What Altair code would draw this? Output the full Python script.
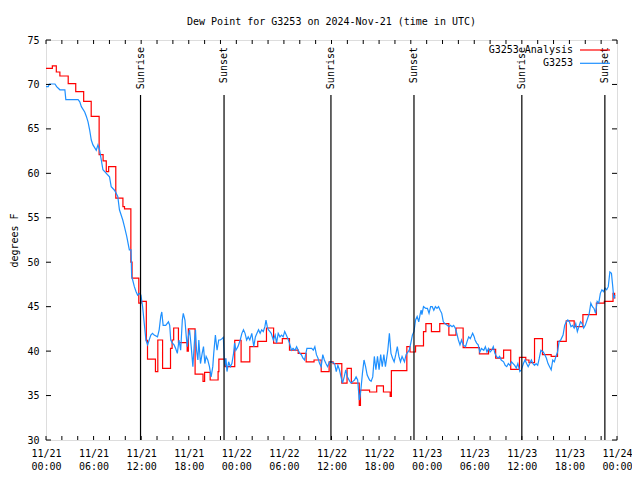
import altair as alt
import pandas as pd

MONO = "DejaVu Sans Mono"
BASE = pd.Timestamp("2024-11-21T00:00:00")

# ---- data (hours since 2024-11-21 00:00 UTC, dew point in deg F) ----
analysis_hours = [0, 0.8, 1.3, 1.75, 2.8, 3.75, 4.75, 5.7, 6.7, 7.2, 7.6, 7.9, 8.8, 9.7, 9.9,
                  10.7, 10.85, 11.7, 12.0, 12.65, 12.8, 13.8, 14.1, 14.7, 15.7, 15.9, 16.1,
                  16.7, 17.8, 17.95, 18.8, 19.8, 20.0, 20.7, 21.7, 21.8, 22.6, 23.8, 24.6,
                  25.7, 26.7, 27.8, 28.7, 29.8, 30.7, 31.8, 32.8, 33.8, 34.7, 35.7, 36.2,
                  37.3, 37.96, 38.5, 39.5, 39.65, 40.8, 41.7, 42.55, 43.4, 43.55, 45.5,
                  45.9, 46.6, 47.6, 47.9, 48.6, 49.65, 50.8, 51.7, 52.6, 54.65, 55.8, 56.7,
                  57.7, 58.6, 59.7, 60.5, 60.9, 61.6, 62.6, 63.7, 64.5, 65.6, 66.6, 67.7,
                  69.4, 70.4, 71.5, 71.7, 71.8]
analysis_dewpt = [71.8, 72.1, 71.4, 70.95, 70.1, 69.2, 68.1, 66.4, 62.1, 61.4, 60.2, 60.75, 57.2,
                  56.25, 56.0, 50.0, 48.2, 45.4, 45.6, 41.2, 39.1, 37.7, 41.25, 38.05, 40.3,
                  41.25, 42.6, 40.95, 40.0, 42.5, 37.4, 36.6, 37.6, 36.75, 37.7, 39.1, 38.25,
                  41.2, 38.8, 40.5, 41.1, 42.6, 40.9, 41.4, 40.1, 39.75, 38.8, 39.0, 37.7,
                  38.8, 38.6, 36.4, 38.05, 36.4, 33.9, 35.6, 35.4, 36.1, 35.4, 34.9, 37.8,
                  40.5, 39.9, 40.6, 42.2, 43.1, 42.2, 43.1, 41.8, 42.6, 40.4, 39.7, 40.2,
                  39.2, 40.1, 37.95, 39.3, 39.0, 38.7, 41.4, 39.6, 39.4, 41.1, 43.4, 42.75,
                  44.1, 45.4, 45.6, 46.5, 46.0, 46.0]

obs_hours = [0, 0.29, 0.42, 1.13, 1.34, 1.75, 2.38, 2.5, 4.05, 4.26, 4.46, 4.88, 5.09, 5.3, 5.5,
             5.71, 5.92, 6.34, 6.55, 6.76, 7.18, 7.6, 8.01, 8.22, 8.64, 9.05, 9.26, 9.68, 9.89,
             10.18, 10.51, 10.72, 10.8, 10.93, 11.14, 11.35, 11.55, 11.76, 11.97, 12.18,
             12.39, 12.6, 12.81, 13.01, 13.22, 13.43, 13.64, 14.06, 14.27, 14.47, 14.6,
             14.77, 15.1, 15.44, 15.6, 15.73, 15.94, 16.15, 16.35, 16.56, 16.77, 16.98,
             17.19, 17.31, 17.52, 17.69, 17.81, 17.94, 18.1, 18.31, 18.52, 18.73, 18.85,
             18.98, 19.15, 19.27, 19.48, 19.69, 19.86, 20.03, 20.19, 20.4, 20.61, 20.82,
             21.03, 21.15, 21.36, 21.57, 21.78, 21.99, 22.2, 22.36, 22.53, 22.69, 22.82,
             23.03, 23.24, 23.44, 23.65, 23.78, 23.94, 24.2, 24.49, 24.7, 24.9, 25.1, 25.3,
             25.5, 25.7, 25.95, 26.2, 26.4, 26.6, 26.8, 27.0, 27.2, 27.4, 27.6, 27.74, 27.9,
             28.03, 28.24, 28.4, 28.66, 28.9, 29.07, 29.28, 29.5, 29.7, 29.9, 30.1, 30.3,
             30.5, 30.7, 30.95, 31.15, 31.4, 31.6, 31.8, 32.0, 32.2, 32.4, 32.6, 32.9, 33.3,
             33.5, 33.7, 33.9, 34.1, 34.3, 34.5, 34.7, 34.9, 35.1, 35.3, 35.5, 35.75, 36.0,
             36.4, 36.6, 36.8, 37.0, 37.2, 37.4, 37.6, 37.8, 38.0, 38.3, 38.5, 38.7, 38.9,
             39.1, 39.3, 39.5, 39.6, 39.7, 39.9, 40.1, 40.3, 40.5, 40.8, 41.0, 41.2, 41.4,
             41.6, 41.8, 42.0, 42.2, 42.4, 42.6, 42.8, 43.1, 43.3, 43.5, 43.7, 43.9, 44.1,
             44.3, 44.5, 44.7, 44.9, 45.2, 45.4, 45.8, 46.0, 46.2, 46.4, 46.6, 46.8, 47.0,
             47.2, 47.3, 47.4, 47.6, 47.9, 48.1, 48.3, 48.5, 48.7, 48.9, 49.1, 49.3, 49.5,
             49.7, 49.9, 50.1, 50.3, 50.6, 50.8, 51.0, 51.2, 51.4, 51.6, 51.8, 52.0, 52.2,
             52.4, 52.6, 52.9, 53.1, 53.3, 53.5, 53.7, 53.8, 54.0, 54.1, 54.3, 54.5, 54.7,
             54.9, 55.2, 55.4, 55.6, 55.8, 56.0, 56.2, 56.4, 56.6, 56.8, 57.0, 57.2, 57.4,
             57.7, 57.9, 58.1, 58.3, 58.5, 58.7, 58.9, 59.1, 59.3, 59.5, 59.75, 59.95, 60.2,
             60.4, 60.6, 60.8, 61.0, 61.2, 61.4, 61.6, 61.8, 62.0, 62.2, 62.4, 62.7, 62.9,
             63.1, 63.3, 63.5, 63.7, 63.9, 64.1, 64.3, 64.5, 64.7, 64.9, 65.2, 65.4, 65.6,
             65.8, 66.0, 66.2, 66.4, 66.6, 66.8, 67.0, 67.2, 67.4, 67.6, 67.8, 68.0, 68.3,
             68.5, 68.7, 68.9, 69.1, 69.3, 69.5, 69.7, 69.9, 70.1, 70.3, 70.5, 70.7, 70.9,
             71.1, 71.3, 71.45, 71.6, 71.75]
obs_dewpt = [69.75, 69.75, 70.05, 70.05, 69.75, 69.4, 69.4, 68.3, 68.3, 68.05, 67.5, 66.9, 66.4,
             65.8, 64.9, 63.75, 63.2, 62.6, 63.2, 62.6, 60.4, 60.0, 59.6, 58.5, 58.1, 57.4,
             55.9, 54.75, 54.0, 52.9, 51.4, 51.4, 48.4, 48.0, 47.25, 46.7, 46.3, 46.5, 46.3,
             45.0, 43.1, 41.25, 40.7, 41.25, 41.8, 42.0, 41.8, 41.6, 42.4, 43.9, 44.4, 42.9,
             42.9, 43.3, 42.9, 41.25, 40.9, 40.7, 40.3, 39.75, 41.25, 40.1, 43.5, 44.25,
             43.5, 41.6, 40.5, 41.6, 42.4, 40.5, 38.25, 41.25, 42.4, 40.1, 39.0, 41.25, 38.6,
             39.75, 40.5, 38.6, 39.4, 39.0, 38.25, 37.1, 38.25, 39.75, 41.8, 40.1, 41.25,
             41.25, 41.4, 41.55, 38.25, 39.2, 37.7, 38.8, 38.25, 38.6, 39.75, 40.9, 40.1,
             40.5, 41.25, 42.0, 42.4, 42.0, 41.25, 41.6, 41.25, 42.0, 40.5, 41.6, 42.0, 42.4,
             42.0, 42.4, 42.2, 42.75, 43.5, 42.75, 42.4, 42.2, 42.0, 41.25, 41.8, 40.9, 42.0,
             41.6, 41.8, 41.6, 42.2, 41.8, 41.4, 40.9, 40.1, 40.3, 40.1, 40.5, 40.1, 39.75,
             39.6, 39.2, 39.0, 40.3, 40.3, 40.3, 40.1, 40.5, 39.6, 39.2, 38.6, 38.25, 39.6,
             39.0, 38.6, 38.25, 38.8, 38.8, 38.6, 37.7, 38.4, 37.9, 37.1, 36.4, 37.1, 37.9,
             37.1, 36.6, 36.4, 36.6, 36.75, 37.1, 36.75, 34.5, 34.9, 35.6, 37.5, 39.0, 38.25,
             37.3, 36.75, 36.6, 37.1, 39.4, 37.9, 39.4, 37.9, 39.6, 38.25, 39.6, 38.25, 40.1,
             42.0, 39.75, 39.2, 38.8, 39.6, 40.5, 39.4, 38.8, 39.4, 38.8, 39.6, 40.1, 40.9,
             41.8, 42.2, 43.5, 43.9, 43.3, 44.25, 44.6, 44.1, 45.0, 44.8, 44.8, 44.25, 45.0,
             45.0, 44.6, 45.0, 44.8, 45.0, 44.6, 44.25, 43.3, 43.1, 42.9, 42.75, 42.9, 42.75,
             42.9, 42.6, 42.0, 41.25, 40.7, 41.25, 40.7, 40.5, 41.1, 41.6, 41.4, 41.8, 42.0,
             41.6, 41.25, 40.9, 40.7, 39.9, 40.3, 40.1, 40.5, 39.9, 40.3, 39.9, 40.1, 40.5,
             39.75, 39.4, 39.2, 39.4, 39.0, 38.8, 38.4, 38.25, 38.6, 38.4, 38.8, 38.6, 38.4,
             38.1, 38.6, 37.7, 37.9, 38.6, 39.0, 38.6, 38.25, 38.6, 39.0, 38.6, 38.4, 38.6,
             38.4, 39.2, 40.1, 39.9, 39.6, 39.2, 38.6, 38.25, 37.9, 39.0, 38.8, 39.4, 39.9,
             41.1, 41.25, 41.8, 42.9, 43.3, 43.5, 43.3, 42.75, 42.9, 42.6, 43.1, 42.2, 42.75,
             43.3, 43.1, 42.6, 42.9, 43.7, 44.25, 45.4, 45.0, 44.8, 44.25, 45.6, 45.4, 46.5,
             46.9, 46.7, 47.1, 46.9, 47.25, 48.9, 48.75, 47.4, 45.9, 46.3]

sun_hours = [11.92, 22.45, 35.93, 46.4, 60.0, 70.47]
sun_labels = ["Sunrise", "Sunset", "Sunrise", "Sunset", "Sunrise", "Sunset"]

x_label_hours = list(range(0, 73, 6))
x_minor_hours = list(range(0, 73, 2))
y_tick_values = [30, 35, 40, 45, 50, 55, 60, 65, 70, 75]

legend_labels = ["G3253 Analysis", "G3253"]
legend_colors = ["#ff0000", "#1e90ff"]

W, H = 571, 400


def iso(hours):
    ts = BASE + pd.to_timedelta(pd.Series(hours, dtype=float), unit="h")
    return ts.dt.strftime("%Y-%m-%dT%H:%M:%SZ")


def ms(hours):
    return [int((BASE + pd.Timedelta(hours=h)).value // 10**6) for h in hours]


analysis_df = pd.DataFrame({"time": iso(analysis_hours), "dewpt": analysis_dewpt})
obs_df = pd.DataFrame({"time": iso(obs_hours), "dewpt": obs_dewpt})
sun_df = pd.DataFrame({"time": iso(sun_hours), "label": sun_labels})
xminor_df = pd.DataFrame({"time": iso(x_minor_hours)})
ytick_df = pd.DataFrame({"dewpt": y_tick_values})

x_scale = alt.Scale(type="utc", domain=ms([0, 72]))
y_scale = alt.Scale(domain=[30, 75], nice=False, zero=False)

x_axis = alt.Axis(values=ms(x_label_hours),
                  labelExpr="[utcFormat(datum.value, '%m/%d'), utcFormat(datum.value, '%H:%M')]",
                  tickSize=0, domain=False, grid=False, title=None,
                  labelFont=MONO, labelFontSize=10, labelColor="black",
                  labelPadding=8, labelLineHeight=13, labelFlush=False, labelOverlap=False)
y_axis = alt.Axis(values=y_tick_values, tickSize=0, domain=False, grid=False,
                  title="degrees F", titleFont=MONO, titleFontSize=10, titleFontWeight="normal",
                  titleColor="black", titlePadding=7,
                  labelFont=MONO, labelFontSize=10, labelColor="black", labelPadding=7)

X = alt.X("time:T", scale=x_scale, axis=x_axis)
Y = alt.Y("dewpt:Q", scale=y_scale, axis=y_axis)

analysis_line = alt.Chart(analysis_df).mark_line(
    interpolate="step-after", color="#ff0000", strokeWidth=1.2
).encode(x=X, y=Y)

obs_line = alt.Chart(obs_df).mark_line(color="#1e90ff", strokeWidth=1.2).encode(x=X, y=Y)

sun_rules = alt.Chart(sun_df).mark_rule(color="black", strokeWidth=1.2).encode(
    x=X, y=alt.value(55), y2=alt.value(H))
sun_text = alt.Chart(sun_df).mark_text(
    angle=270, align="right", baseline="middle", font=MONO, fontSize=10, color="black"
).encode(x=X, y=alt.value(7), text="label:N")

xt_bottom = alt.Chart(xminor_df).mark_rule(color="black").encode(
    x=X, y=alt.value(H), y2=alt.value(H - 4))
xt_top = alt.Chart(xminor_df).mark_rule(color="black").encode(
    x=X, y=alt.value(0), y2=alt.value(4))
yt_left = alt.Chart(ytick_df).mark_rule(color="black").encode(
    y=Y, x=alt.value(0), x2=alt.value(5))
yt_right = alt.Chart(ytick_df).mark_rule(color="black").encode(
    y=Y, x=alt.value(W), x2=alt.value(W - 5))

legend_layers = []
for i, (lab, col) in enumerate(zip(legend_labels, legend_colors)):
    ld = pd.DataFrame({"label": [lab]})
    ypos = 10 + 13.3 * i
    legend_layers.append(alt.Chart(ld).mark_text(
        align="right", baseline="middle", font=MONO, fontSize=10, color="black"
    ).encode(x=alt.value(W - 44), y=alt.value(ypos), text="label:N"))
    legend_layers.append(alt.Chart(ld).mark_rule(color=col, strokeWidth=1.2).encode(
        x=alt.value(W - 37), x2=alt.value(W - 7), y=alt.value(ypos)))

chart = alt.layer(
    analysis_line, obs_line, sun_rules, sun_text, xt_bottom, xt_top, yt_left, yt_right,
    *legend_layers
).properties(
    width=W, height=H,
    title=alt.TitleParams("Dew Point for G3253 on 2024-Nov-21 (time in UTC)", font=MONO,
                          fontSize=10, fontWeight="normal", anchor="middle", offset=8,
                          color="black"),
    autosize=alt.AutoSizeParams(type="none"),
    padding={"left": 38, "top": 32, "right": 15, "bottom": 32},
).configure_view(stroke="black", strokeWidth=1).configure(background="white")

chart.save("out.html", embed_options={"renderer": "svg", "actions": False})
